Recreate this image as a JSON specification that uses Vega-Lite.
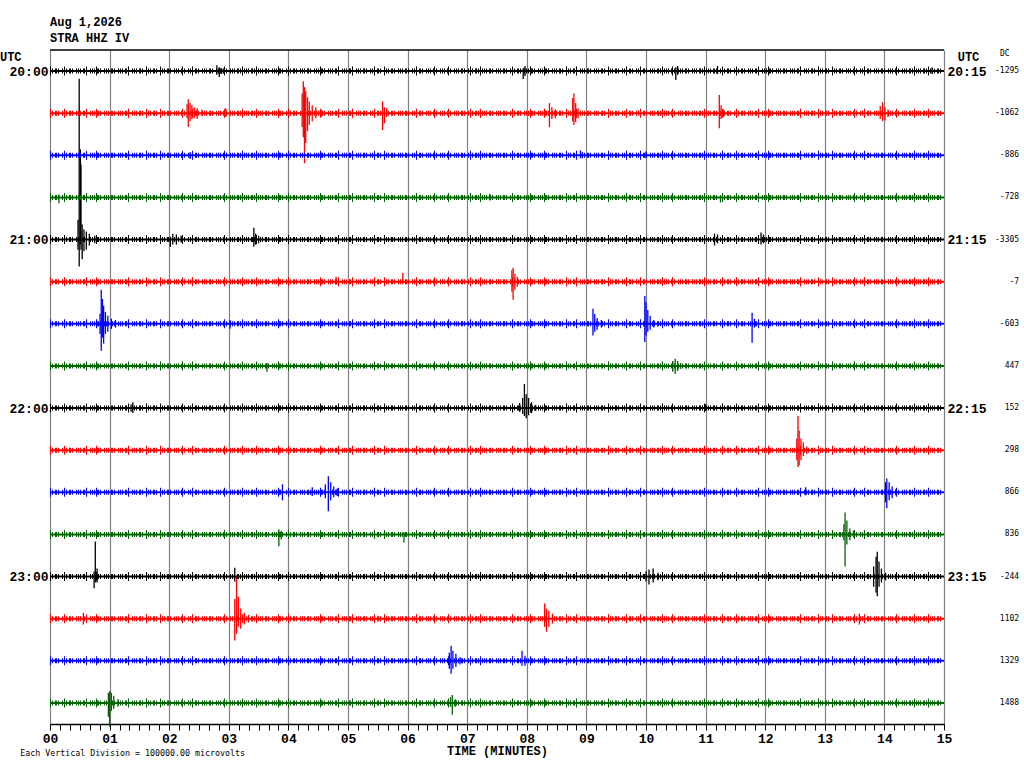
{
  "$schema": "https://vega.github.io/schema/vega-lite/v6.json",
  "width": 894,
  "height": 674,
  "autosize": "none",
  "padding": {"left": 50, "top": 50, "right": 80, "bottom": 44},
  "background": "#FFFFFF",
  "view": {"stroke": null},
  "title": {
    "text": ["Aug 1,2026", "STRA HHZ IV"],
    "anchor": "start",
    "frame": "group",
    "font": "Liberation Mono",
    "fontSize": 12,
    "fontWeight": "bold",
    "color": "#000000",
    "lineHeight": 16,
    "offset": 4
  },
  "datasets": {
    "traces": [
      {"tr": 0, "dc": "-1295"}, {"tr": 1, "dc": "-1062"}, {"tr": 2, "dc": "-886"}, {"tr": 3, "dc": "-728"},
      {"tr": 4, "dc": "-3305"}, {"tr": 5, "dc": "-7"}, {"tr": 6, "dc": "-603"}, {"tr": 7, "dc": "447"},
      {"tr": 8, "dc": "152"}, {"tr": 9, "dc": "298"}, {"tr": 10, "dc": "866"}, {"tr": 11, "dc": "836"},
      {"tr": 12, "dc": "-244"}, {"tr": 13, "dc": "1102"}, {"tr": 14, "dc": "1329"}, {"tr": 15, "dc": "1488"}
    ],
    "spikes": [
      {"tr": 0, "t": 2.80, "y1": -0.14, "y2": 0.09}, {"tr": 0, "t": 2.84, "y1": -0.09, "y2": 0.14}, {"tr": 0, "t": 2.88, "y1": -0.07, "y2": 0.07},
      {"tr": 0, "t": 7.94, "y1": -0.07, "y2": 0.19}, {"tr": 0, "t": 7.97, "y1": -0.12, "y2": 0.12},
      {"tr": 0, "t": 10.50, "y1": -0.09, "y2": 0.21}, {"tr": 0, "t": 10.53, "y1": -0.12, "y2": 0.09},
      {"tr": 0, "t": 11.20, "y1": -0.12, "y2": 0.07}, {"tr": 0, "t": 14.80, "y1": -0.09, "y2": 0.07},

      {"tr": 1, "t": 2.30, "y1": 0.79, "y2": 1.12}, {"tr": 1, "t": 2.32, "y1": 0.67, "y2": 1.33}, {"tr": 1, "t": 2.35, "y1": 0.76, "y2": 1.19},
      {"tr": 1, "t": 2.38, "y1": 0.81, "y2": 1.14}, {"tr": 1, "t": 2.42, "y1": 0.86, "y2": 1.12}, {"tr": 1, "t": 2.47, "y1": 0.88, "y2": 1.14},
      {"tr": 1, "t": 2.55, "y1": 0.91, "y2": 1.07}, {"tr": 1, "t": 2.95, "y1": 0.88, "y2": 1.09},
      {"tr": 1, "t": 4.23, "y1": 0.53, "y2": 1.33}, {"tr": 1, "t": 4.25, "y1": 0.24, "y2": 1.57}, {"tr": 1, "t": 4.27, "y1": 0.38, "y2": 2.19},
      {"tr": 1, "t": 4.29, "y1": 0.48, "y2": 1.71}, {"tr": 1, "t": 4.32, "y1": 0.62, "y2": 1.43}, {"tr": 1, "t": 4.35, "y1": 0.72, "y2": 1.28},
      {"tr": 1, "t": 4.40, "y1": 0.81, "y2": 1.19}, {"tr": 1, "t": 4.46, "y1": 0.86, "y2": 1.12}, {"tr": 1, "t": 4.55, "y1": 0.91, "y2": 1.09},
      {"tr": 1, "t": 5.58, "y1": 0.72, "y2": 1.40}, {"tr": 1, "t": 5.61, "y1": 0.86, "y2": 1.24}, {"tr": 1, "t": 5.65, "y1": 0.88, "y2": 1.09},
      {"tr": 1, "t": 8.38, "y1": 0.76, "y2": 1.33}, {"tr": 1, "t": 8.42, "y1": 0.86, "y2": 1.14}, {"tr": 1, "t": 8.48, "y1": 0.91, "y2": 1.12},
      {"tr": 1, "t": 8.77, "y1": 0.64, "y2": 1.19}, {"tr": 1, "t": 8.79, "y1": 0.53, "y2": 1.28}, {"tr": 1, "t": 8.82, "y1": 0.76, "y2": 1.21},
      {"tr": 1, "t": 8.86, "y1": 0.88, "y2": 1.12},
      {"tr": 1, "t": 11.23, "y1": 0.57, "y2": 1.36}, {"tr": 1, "t": 11.26, "y1": 0.81, "y2": 1.14}, {"tr": 1, "t": 11.30, "y1": 0.91, "y2": 1.09},
      {"tr": 1, "t": 13.93, "y1": 0.83, "y2": 1.14}, {"tr": 1, "t": 13.97, "y1": 0.74, "y2": 1.19}, {"tr": 1, "t": 14.01, "y1": 0.86, "y2": 1.17},
      {"tr": 1, "t": 14.06, "y1": 0.91, "y2": 1.09},

      {"tr": 2, "t": 2.35, "y1": 1.93, "y2": 2.09}, {"tr": 2, "t": 8.90, "y1": 1.88, "y2": 2.07}, {"tr": 2, "t": 8.93, "y1": 1.93, "y2": 2.07},
      {"tr": 2, "t": 10.00, "y1": 1.91, "y2": 2.07},

      {"tr": 3, "t": 0.15, "y1": 2.93, "y2": 3.14}, {"tr": 3, "t": 7.38, "y1": 2.91, "y2": 3.07}, {"tr": 3, "t": 11.25, "y1": 2.95, "y2": 3.12},

      {"tr": 4, "t": 0.47, "y1": 3.53, "y2": 4.24}, {"tr": 4, "t": 0.49, "y1": 0.18, "y2": 4.64}, {"tr": 4, "t": 0.51, "y1": 1.86, "y2": 4.12},
      {"tr": 4, "t": 0.52, "y1": 2.22, "y2": 4.24}, {"tr": 4, "t": 0.54, "y1": 3.64, "y2": 4.47}, {"tr": 4, "t": 0.57, "y1": 3.76, "y2": 4.28},
      {"tr": 4, "t": 0.61, "y1": 3.81, "y2": 4.24}, {"tr": 4, "t": 0.66, "y1": 3.86, "y2": 4.14}, {"tr": 4, "t": 0.75, "y1": 3.91, "y2": 4.09},
      {"tr": 4, "t": 2.02, "y1": 3.93, "y2": 4.17}, {"tr": 4, "t": 2.06, "y1": 3.86, "y2": 4.12}, {"tr": 4, "t": 2.12, "y1": 3.88, "y2": 4.12},
      {"tr": 4, "t": 2.20, "y1": 3.91, "y2": 4.07},
      {"tr": 4, "t": 3.42, "y1": 3.72, "y2": 4.17}, {"tr": 4, "t": 3.45, "y1": 3.86, "y2": 4.12}, {"tr": 4, "t": 3.50, "y1": 3.91, "y2": 4.09},
      {"tr": 4, "t": 11.15, "y1": 3.86, "y2": 4.14}, {"tr": 4, "t": 11.20, "y1": 3.88, "y2": 4.09},
      {"tr": 4, "t": 11.93, "y1": 3.83, "y2": 4.12}, {"tr": 4, "t": 11.97, "y1": 3.88, "y2": 4.09},

      {"tr": 5, "t": 4.80, "y1": 4.88, "y2": 5.07}, {"tr": 5, "t": 5.92, "y1": 4.79, "y2": 5.05},
      {"tr": 5, "t": 7.75, "y1": 4.72, "y2": 5.24}, {"tr": 5, "t": 7.77, "y1": 4.67, "y2": 5.43}, {"tr": 5, "t": 7.80, "y1": 4.81, "y2": 5.19},
      {"tr": 5, "t": 7.84, "y1": 4.88, "y2": 5.12},

      {"tr": 6, "t": 0.84, "y1": 5.76, "y2": 6.24}, {"tr": 6, "t": 0.86, "y1": 5.19, "y2": 6.64}, {"tr": 6, "t": 0.88, "y1": 5.41, "y2": 6.33},
      {"tr": 6, "t": 0.90, "y1": 5.57, "y2": 6.47}, {"tr": 6, "t": 0.93, "y1": 5.72, "y2": 6.24}, {"tr": 6, "t": 0.97, "y1": 5.81, "y2": 6.19},
      {"tr": 6, "t": 1.03, "y1": 5.88, "y2": 6.12}, {"tr": 6, "t": 1.10, "y1": 5.91, "y2": 6.09},
      {"tr": 6, "t": 3.02, "y1": 5.91, "y2": 6.12},
      {"tr": 6, "t": 9.11, "y1": 5.64, "y2": 6.28}, {"tr": 6, "t": 9.14, "y1": 5.76, "y2": 6.19}, {"tr": 6, "t": 9.18, "y1": 5.86, "y2": 6.14},
      {"tr": 6, "t": 9.25, "y1": 5.91, "y2": 6.09},
      {"tr": 6, "t": 9.98, "y1": 5.34, "y2": 6.43}, {"tr": 6, "t": 10.00, "y1": 5.48, "y2": 6.28}, {"tr": 6, "t": 10.03, "y1": 5.67, "y2": 6.19},
      {"tr": 6, "t": 10.07, "y1": 5.81, "y2": 6.14}, {"tr": 6, "t": 10.13, "y1": 5.91, "y2": 6.09},
      {"tr": 6, "t": 11.78, "y1": 5.74, "y2": 6.45}, {"tr": 6, "t": 11.82, "y1": 5.88, "y2": 6.09},

      {"tr": 7, "t": 3.64, "y1": 6.93, "y2": 7.14},
      {"tr": 7, "t": 10.45, "y1": 6.88, "y2": 7.14}, {"tr": 7, "t": 10.49, "y1": 6.83, "y2": 7.19}, {"tr": 7, "t": 10.53, "y1": 6.88, "y2": 7.12},
      {"tr": 7, "t": 10.58, "y1": 6.93, "y2": 7.07},

      {"tr": 8, "t": 1.36, "y1": 7.91, "y2": 8.09}, {"tr": 8, "t": 1.39, "y1": 7.86, "y2": 8.12},
      {"tr": 8, "t": 7.88, "y1": 7.88, "y2": 8.09}, {"tr": 8, "t": 7.93, "y1": 7.76, "y2": 8.14}, {"tr": 8, "t": 7.96, "y1": 7.43, "y2": 8.19},
      {"tr": 8, "t": 7.99, "y1": 7.67, "y2": 8.24}, {"tr": 8, "t": 8.03, "y1": 7.76, "y2": 8.17}, {"tr": 8, "t": 8.08, "y1": 7.86, "y2": 8.12},
      {"tr": 8, "t": 8.15, "y1": 7.93, "y2": 8.07}, {"tr": 8, "t": 11.00, "y1": 7.91, "y2": 8.07},

      {"tr": 9, "t": 12.53, "y1": 8.72, "y2": 9.24}, {"tr": 9, "t": 12.55, "y1": 8.19, "y2": 9.40}, {"tr": 9, "t": 12.57, "y1": 8.53, "y2": 9.36},
      {"tr": 9, "t": 12.60, "y1": 8.72, "y2": 9.24}, {"tr": 9, "t": 12.64, "y1": 8.81, "y2": 9.14}, {"tr": 9, "t": 12.70, "y1": 8.91, "y2": 9.09},

      {"tr": 10, "t": 3.90, "y1": 9.81, "y2": 10.19}, {"tr": 10, "t": 4.40, "y1": 9.88, "y2": 10.09},
      {"tr": 10, "t": 4.62, "y1": 9.81, "y2": 10.14}, {"tr": 10, "t": 4.67, "y1": 9.62, "y2": 10.45}, {"tr": 10, "t": 4.71, "y1": 9.76, "y2": 10.19},
      {"tr": 10, "t": 4.76, "y1": 9.86, "y2": 10.12}, {"tr": 10, "t": 4.82, "y1": 9.91, "y2": 10.09},
      {"tr": 10, "t": 12.68, "y1": 9.88, "y2": 10.07},
      {"tr": 10, "t": 14.02, "y1": 9.76, "y2": 10.24}, {"tr": 10, "t": 14.04, "y1": 9.67, "y2": 10.38}, {"tr": 10, "t": 14.08, "y1": 9.76, "y2": 10.19},
      {"tr": 10, "t": 14.13, "y1": 9.86, "y2": 10.14}, {"tr": 10, "t": 14.20, "y1": 9.91, "y2": 10.09},

      {"tr": 11, "t": 3.84, "y1": 10.88, "y2": 11.28}, {"tr": 11, "t": 3.88, "y1": 10.91, "y2": 11.12}, {"tr": 11, "t": 5.94, "y1": 10.95, "y2": 11.19},
      {"tr": 11, "t": 13.32, "y1": 10.76, "y2": 11.14}, {"tr": 11, "t": 13.34, "y1": 10.48, "y2": 11.76}, {"tr": 11, "t": 13.37, "y1": 10.67, "y2": 11.24},
      {"tr": 11, "t": 13.42, "y1": 10.86, "y2": 11.14}, {"tr": 11, "t": 13.48, "y1": 10.91, "y2": 11.07},

      {"tr": 12, "t": 0.74, "y1": 11.88, "y2": 12.28}, {"tr": 12, "t": 0.76, "y1": 11.17, "y2": 12.14}, {"tr": 12, "t": 0.79, "y1": 11.81, "y2": 12.14},
      {"tr": 12, "t": 3.10, "y1": 11.79, "y2": 12.12},
      {"tr": 12, "t": 10.00, "y1": 11.88, "y2": 12.12}, {"tr": 12, "t": 10.05, "y1": 11.83, "y2": 12.19}, {"tr": 12, "t": 10.12, "y1": 11.81, "y2": 12.14},
      {"tr": 12, "t": 10.20, "y1": 11.91, "y2": 12.09},
      {"tr": 12, "t": 13.82, "y1": 11.76, "y2": 12.24}, {"tr": 12, "t": 13.86, "y1": 11.53, "y2": 12.38}, {"tr": 12, "t": 13.88, "y1": 11.41, "y2": 12.47},
      {"tr": 12, "t": 13.91, "y1": 11.64, "y2": 12.24}, {"tr": 12, "t": 13.95, "y1": 11.81, "y2": 12.14}, {"tr": 12, "t": 14.02, "y1": 11.91, "y2": 12.09},

      {"tr": 13, "t": 0.56, "y1": 12.86, "y2": 13.14},
      {"tr": 13, "t": 3.10, "y1": 12.53, "y2": 13.52}, {"tr": 13, "t": 3.13, "y1": 11.98, "y2": 13.36}, {"tr": 13, "t": 3.16, "y1": 12.48, "y2": 13.19},
      {"tr": 13, "t": 3.20, "y1": 12.76, "y2": 13.24}, {"tr": 13, "t": 3.26, "y1": 12.86, "y2": 13.14}, {"tr": 13, "t": 3.33, "y1": 12.91, "y2": 13.09},
      {"tr": 13, "t": 8.30, "y1": 12.64, "y2": 13.19}, {"tr": 13, "t": 8.33, "y1": 12.76, "y2": 13.31}, {"tr": 13, "t": 8.37, "y1": 12.81, "y2": 13.19},
      {"tr": 13, "t": 8.43, "y1": 12.88, "y2": 13.12}, {"tr": 13, "t": 13.58, "y1": 12.88, "y2": 13.14},

      {"tr": 14, "t": 6.70, "y1": 13.81, "y2": 14.19}, {"tr": 14, "t": 6.73, "y1": 13.64, "y2": 14.31}, {"tr": 14, "t": 6.76, "y1": 13.76, "y2": 14.19},
      {"tr": 14, "t": 6.81, "y1": 13.83, "y2": 14.14}, {"tr": 14, "t": 6.88, "y1": 13.91, "y2": 14.09},
      {"tr": 14, "t": 7.92, "y1": 13.76, "y2": 14.12}, {"tr": 14, "t": 7.97, "y1": 13.88, "y2": 14.12},

      {"tr": 15, "t": 0.98, "y1": 14.76, "y2": 15.33}, {"tr": 15, "t": 1.00, "y1": 14.72, "y2": 15.57}, {"tr": 15, "t": 1.03, "y1": 14.76, "y2": 15.19},
      {"tr": 15, "t": 1.07, "y1": 14.83, "y2": 15.14}, {"tr": 15, "t": 1.14, "y1": 14.91, "y2": 15.09},
      {"tr": 15, "t": 6.72, "y1": 14.86, "y2": 15.09}, {"tr": 15, "t": 6.75, "y1": 14.81, "y2": 15.28}, {"tr": 15, "t": 6.80, "y1": 14.91, "y2": 15.09}
    ]
  },
  "layer": [
    {
      "data": {"name": "spikes"},
      "mark": {"type": "rule", "strokeWidth": 1.3},
      "encoding": {
        "x": {
          "field": "t",
          "type": "quantitative",
          "scale": {"domain": [0, 15], "nice": false, "zero": false},
          "axis": {
            "orient": "bottom",
            "values": [0, 0.1667, 0.3333, 0.5, 0.6667, 0.8333, 1, 1.1667, 1.3333, 1.5, 1.6667, 1.8333,
                       2, 2.1667, 2.3333, 2.5, 2.6667, 2.8333, 3, 3.1667, 3.3333, 3.5, 3.6667, 3.8333,
                       4, 4.1667, 4.3333, 4.5, 4.6667, 4.8333, 5, 5.1667, 5.3333, 5.5, 5.6667, 5.8333,
                       6, 6.1667, 6.3333, 6.5, 6.6667, 6.8333, 7, 7.1667, 7.3333, 7.5, 7.6667, 7.8333,
                       8, 8.1667, 8.3333, 8.5, 8.6667, 8.8333, 9, 9.1667, 9.3333, 9.5, 9.6667, 9.8333,
                       10, 10.1667, 10.3333, 10.5, 10.6667, 10.8333, 11, 11.1667, 11.3333, 11.5, 11.6667, 11.8333,
                       12, 12.1667, 12.3333, 12.5, 12.6667, 12.8333, 13, 13.1667, 13.3333, 13.5, 13.6667, 13.8333,
                       14, 14.1667, 14.3333, 14.5, 14.6667, 14.8333, 15],
            "labelExpr": "abs(datum.value - round(datum.value)) < 0.01 ? (round(datum.value) < 10 ? '0' : '') + round(datum.value) : ''",
            "labelOverlap": false,
            "labelFlush": false,
            "labelFont": "Liberation Mono",
            "labelFontSize": 13,
            "labelFontWeight": "bold",
            "labelColor": "#000000",
            "labelPadding": 2,
            "ticks": true,
            "tickSize": 6,
            "tickColor": "#000000",
            "domain": true,
            "domainColor": "#000000",
            "domainWidth": 1.5,
            "grid": true,
            "gridColor": "#808080",
            "gridWidth": 1.2,
            "gridOpacity": {"condition": {"test": "abs(datum.value - round(datum.value)) < 0.01", "value": 1}, "value": 0},
            "title": "TIME (MINUTES)",
            "titleFont": "Liberation Mono",
            "titleFontSize": 12,
            "titleFontWeight": "bold",
            "titleColor": "#000000",
            "titlePadding": 0
          }
        },
        "y": {
          "field": "y1",
          "type": "quantitative",
          "scale": {"domain": [-0.5, 15.5], "reverse": true, "nice": false, "zero": false},
          "axis": {
            "orient": "right",
            "values": [0, 4, 8, 12],
            "labelExpr": "['20:15', '21:15', '22:15', '23:15'][round(datum.value / 4)]",
            "labelFont": "Liberation Mono",
            "labelFontSize": 13,
            "labelFontWeight": "bold",
            "labelColor": "#000000",
            "labelPadding": 3,
            "ticks": false,
            "domain": false,
            "grid": false,
            "title": null
          }
        },
        "y2": {"field": "y2"},
        "color": {
          "field": "tr",
          "type": "ordinal",
          "scale": {
            "domain": [0, 1, 2, 3, 4, 5, 6, 7, 8, 9, 10, 11, 12, 13, 14, 15],
            "range": ["#000000", "#FF0000", "#0000FF", "#006400", "#000000", "#FF0000", "#0000FF", "#006400",
                      "#000000", "#FF0000", "#0000FF", "#006400", "#000000", "#FF0000", "#0000FF", "#006400"]
          },
          "legend": null
        }
      }
    },
    {
      "data": {"name": "traces"},
      "mark": {"type": "rule", "strokeWidth": 2},
      "encoding": {
        "x": {"datum": 0, "type": "quantitative", "axis": null},
        "x2": {"datum": 15},
        "y": {
          "field": "tr",
          "type": "quantitative",
          "axis": {
            "orient": "left",
            "values": [0, 4, 8, 12],
            "labelExpr": "['20:00', '21:00', '22:00', '23:00'][round(datum.value / 4)]",
            "labelFont": "Liberation Mono",
            "labelFontSize": 13,
            "labelFontWeight": "bold",
            "labelColor": "#000000",
            "labelPadding": 2,
            "ticks": false,
            "domain": false,
            "grid": false,
            "title": null
          }
        },
        "color": {"field": "tr", "type": "ordinal", "legend": null}
      }
    },
    {
      "data": {"name": "traces"},
      "mark": {"type": "rule", "strokeWidth": 5, "strokeDash": [1, 1, 1, 2, 2, 1, 1, 3, 1, 1]},
      "encoding": {
        "x": {"datum": 0, "type": "quantitative", "axis": null},
        "x2": {"datum": 15},
        "y": {"field": "tr", "type": "quantitative", "axis": null},
        "color": {"field": "tr", "type": "ordinal", "legend": null}
      }
    },
    {
      "data": {"name": "traces"},
      "mark": {"type": "rule", "strokeWidth": 9, "strokeDash": [1, 13, 1, 21, 1, 9, 1, 31, 1, 17]},
      "encoding": {
        "x": {"datum": 0, "type": "quantitative", "axis": null},
        "x2": {"datum": 15},
        "y": {"field": "tr", "type": "quantitative", "axis": null},
        "color": {"field": "tr", "type": "ordinal", "legend": null}
      }
    },
    {
      "data": {"name": "traces"},
      "mark": {"type": "text", "align": "right", "baseline": "middle", "font": "DejaVu Sans Mono", "fontSize": 8, "color": "#000000"},
      "encoding": {
        "x": {"datum": 16.26, "type": "quantitative", "axis": null},
        "y": {"field": "tr", "type": "quantitative", "axis": null},
        "text": {"field": "dc"}
      }
    },
    {
      "data": {"values": [{}]},
      "mark": {"type": "rule", "color": "#000000", "strokeWidth": 1.5},
      "encoding": {
        "x": {"datum": 0, "type": "quantitative", "axis": null},
        "x2": {"datum": 15},
        "y": {"datum": -0.5, "type": "quantitative", "axis": null}
      }
    },
    {
      "data": {"values": [{}]},
      "mark": {"type": "text", "text": "UTC", "align": "left", "baseline": "middle", "font": "Liberation Mono", "fontSize": 12, "fontWeight": "bold", "color": "#000000"},
      "encoding": {
        "x": {"datum": -0.84, "type": "quantitative", "axis": null},
        "y": {"datum": -0.33, "type": "quantitative", "axis": null}
      }
    },
    {
      "data": {"values": [{}]},
      "mark": {"type": "text", "text": "UTC", "align": "left", "baseline": "middle", "font": "Liberation Mono", "fontSize": 12, "fontWeight": "bold", "color": "#000000"},
      "encoding": {
        "x": {"datum": 15.23, "type": "quantitative", "axis": null},
        "y": {"datum": -0.33, "type": "quantitative", "axis": null}
      }
    },
    {
      "data": {"values": [{}]},
      "mark": {"type": "text", "text": "DC", "align": "left", "baseline": "middle", "font": "DejaVu Sans Mono", "fontSize": 8, "color": "#000000"},
      "encoding": {
        "x": {"datum": 15.94, "type": "quantitative", "axis": null},
        "y": {"datum": -0.4, "type": "quantitative", "axis": null}
      }
    },
    {
      "data": {"values": [{}]},
      "mark": {"type": "text", "text": "Each Vertical Division = 100000.00 microvolts", "align": "left", "baseline": "middle", "font": "DejaVu Sans Mono", "fontSize": 8.3, "color": "#000000"},
      "encoding": {
        "x": {"datum": -0.5, "type": "quantitative", "axis": null},
        "y": {"datum": 16.21, "type": "quantitative", "axis": null}
      }
    }
  ],
  "resolve": {"axis": {"x": "independent", "y": "independent"}}
}
